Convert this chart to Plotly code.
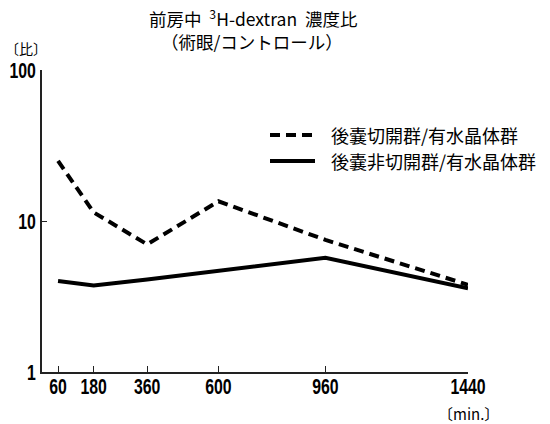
import plotly.graph_objects as go

# Time after injection (min.)
minutes = [60, 180, 360, 600, 960, 1440]
x_ticks = [60, 180, 360, 600, 960, 1440]

# Anterior chamber 3H-dextran concentration ratio (operated eye / control)
ratio_capsulotomy = [25.0, 11.4, 7.0, 13.5, 7.5, 3.78]
ratio_no_capsulotomy = [4.0, 3.74, 4.1, 4.68, 5.7, 3.58]

name_capsulotomy = "後嚢切開群/有水晶体群"
name_no_capsulotomy = "後嚢非切開群/有水晶体群"

cjk = "Noto Sans CJK JP, Noto Sans, sans-serif"
num_font = "Liberation Sans, Arial, sans-serif"

W, H = 550, 424
L, R, T, B = 42, 82, 70, 52
PW, PH = W - L - R, H - T - B


def px(x):
    return (x - L) / PW


def py(y):
    return (H - B - y) / PH


dash_style = dict(color="black", width=4, dash="10px,6px")
solid_style = dict(color="black", width=4)

fig = go.Figure()
fig.add_trace(go.Scatter(x=minutes, y=ratio_capsulotomy, mode="lines",
                         name=name_capsulotomy, line=dash_style))
fig.add_trace(go.Scatter(x=minutes, y=ratio_no_capsulotomy, mode="lines",
                         name=name_no_capsulotomy, line=solid_style))


def label(text, x, y, size, xanchor="center"):
    return dict(text=text, x=px(x), y=py(y), xref="paper", yref="paper",
                xanchor=xanchor, yanchor="middle", showarrow=False,
                font=dict(family=cjk, size=size, color="black"))


# Hand-placed key: a line sample followed by its label
key_rows = [(name_capsulotomy, dash_style, 135), (name_no_capsulotomy, solid_style, 161)]
shapes = []
annotations = []
for name, style, yy in key_rows:
    shapes.append(dict(type="line", xref="paper", yref="paper",
                       x0=px(270), x1=px(315), y0=py(yy), y1=py(yy),
                       line=style))
    annotations.append(label(name, 329, yy, 18, xanchor="left"))

annotations += [
    label("前房中\u00a0\u00a0<sup>3</sup>H-dextran\u00a0\u00a0濃度比", 253, 18, 17.5),
    label("（術眼/コントロール）", 252, 41, 17.5),
    label("〔比〕", 26, 48, 14),
    label("〔min.〕", 468, 413, 15),
]

fig.update_layout(
    width=W, height=H,
    margin=dict(l=L, r=R, t=T, b=B, autoexpand=False),
    paper_bgcolor="white", plot_bgcolor="white",
    showlegend=False,
    shapes=shapes,
    annotations=annotations,
    xaxis=dict(
        range=[6, 1440], tickvals=x_ticks, ticktext=[str(v) for v in x_ticks],
        automargin=False, tickangle=0,
        showgrid=False, zeroline=False, showline=True, linecolor="#222", linewidth=1.5,
        ticks="inside", ticklen=6, tickcolor="#222", ticklabelstandoff=-6,
        tickfont=dict(family=num_font, size=22, color="black", weight="bold"),
    ),
    yaxis=dict(
        type="log", range=[0, 2], tickvals=[1, 10, 100], ticktext=["1", "10", "100"],
        automargin=False,
        showgrid=False, zeroline=False, showline=True, linecolor="#222", linewidth=1.5,
        ticks="inside", ticklen=5, tickcolor="#222", ticklabelstandoff=0,
        tickfont=dict(family=num_font, size=22, color="black", weight="bold"),
    ),
)

# Narrow the numeric tick labels horizontally, pivoting on each label's anchor
squeeze = """
var gd = document.getElementById('{plot_id}');
function squeezeTicks() {
  gd.querySelectorAll('.xtick text, .ytick text').forEach(function (t) {
    var tr = t.getAttribute('transform') || '';
    if (tr.indexOf('scale(') !== -1) return;
    var x = parseFloat(t.getAttribute('x')) || 0;
    t.setAttribute('transform',
      tr + ' translate(' + x + ',0) scale(0.72,1) translate(' + (-x) + ',0)');
  });
}
squeezeTicks();
gd.on('plotly_afterplot', squeezeTicks);
"""

fig.write_html("out.html", post_script=squeeze)
